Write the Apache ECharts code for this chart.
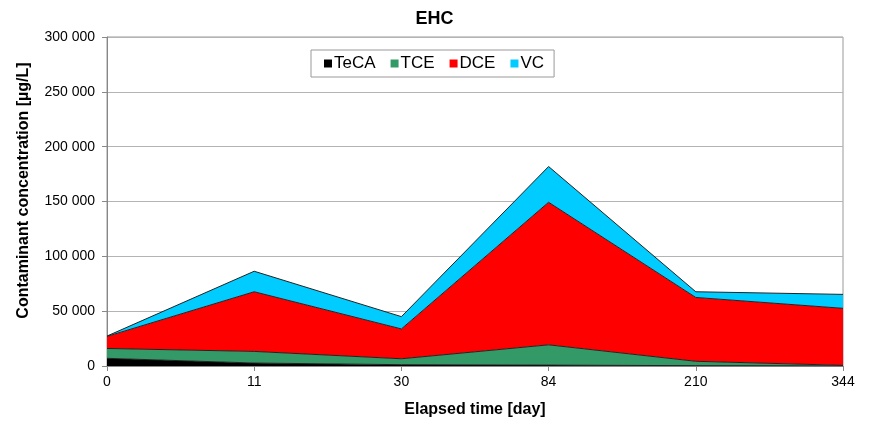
<!DOCTYPE html>
<html>
<head>
<meta charset="utf-8">
<script src="https://cdn.jsdelivr.net/npm/echarts@6/dist/echarts.min.js"></script>
<style>html,body{margin:0;padding:0;background:#fff;}#c{width:869px;height:423px;}</style>
</head>
<body>
<div id="c"></div>
<script>
var categories = ['0', '11', '30', '84', '210', '344'];
var seriesNames = ['TeCA', 'TCE', 'DCE', 'VC'];
var teca = [7000, 2700, 1200, 800, 300, 200];
var tce = [9000, 10600, 5400, 18500, 4000, 400];
var dce = [11000, 54400, 27200, 130000, 58200, 52000];
var vc = [300, 18700, 11200, 32600, 5200, 12700];
var colors = ['#000000', '#339966', '#FF0000', '#00CCFF'];
var values = [teca, tce, dce, vc];

var font = 'Liberation Sans, Arial, sans-serif';
var chart = echarts.init(document.getElementById('c'));
chart.setOption({
  animation: false,
  title: {
    text: 'EHC', left: 'center', top: 5,
    textStyle: {fontFamily: font, fontSize: 18, fontWeight: 'bold', color: '#000'}
  },
  legend: {
    data: seriesNames,
    left: 311, top: 50,
    padding: [5, 10, 5, 13],
    borderColor: '#999', borderWidth: 1,
    itemWidth: 8, itemHeight: 8, itemGap: 15,
    icon: 'rect',
    textStyle: {fontFamily: font, fontSize: 17, color: '#000', padding: [0, 0, 0, -3]}
  },
  grid: {
    left: 107, right: 26, top: 37, bottom: 55,
    show: true, borderColor: '#999', borderWidth: 1, containLabel: false
  },
  xAxis: {
    type: 'category', data: categories, boundaryGap: false,
    name: 'Elapsed time [day]', nameLocation: 'middle', nameGap: 36,
    nameTextStyle: {fontFamily: font, fontSize: 16, fontWeight: 'bold', color: '#000'},
    axisLine: {lineStyle: {color: '#888'}},
    axisTick: {show: true, length: 5, lineStyle: {color: '#888'}},
    axisLabel: {fontFamily: font, fontSize: 14, color: '#000', margin: 9},
    splitLine: {show: false}
  },
  yAxis: {
    type: 'value', min: 0, max: 300000, interval: 50000,
    name: 'Contaminant concentration [µg/L]', nameLocation: 'middle', nameGap: 75,
    nameTextStyle: {fontFamily: font, fontSize: 16, fontWeight: 'bold', color: '#000', padding: [0, 0, 0, 22]},
    axisLine: {show: true, lineStyle: {color: '#888'}},
    axisTick: {show: true, length: 5, lineStyle: {color: '#888'}},
    axisLabel: {
      fontFamily: font, fontSize: 14, color: '#000', margin: 12,
      formatter: function (v) { return String(v).replace(/\B(?=(\d{3})+(?!\d))/g, ' '); }
    },
    splitLine: {lineStyle: {color: '#b4b4b4', width: 1}}
  },
  series: seriesNames.map(function (n, i) {
    return {
      name: n, type: 'line', stack: 'total', data: values[i],
      symbol: 'none', itemStyle: {color: colors[i]},
      lineStyle: {color: '#222', width: 1},
      areaStyle: {color: colors[i], opacity: 1}
    };
  })
});
</script>
</body>
</html>
